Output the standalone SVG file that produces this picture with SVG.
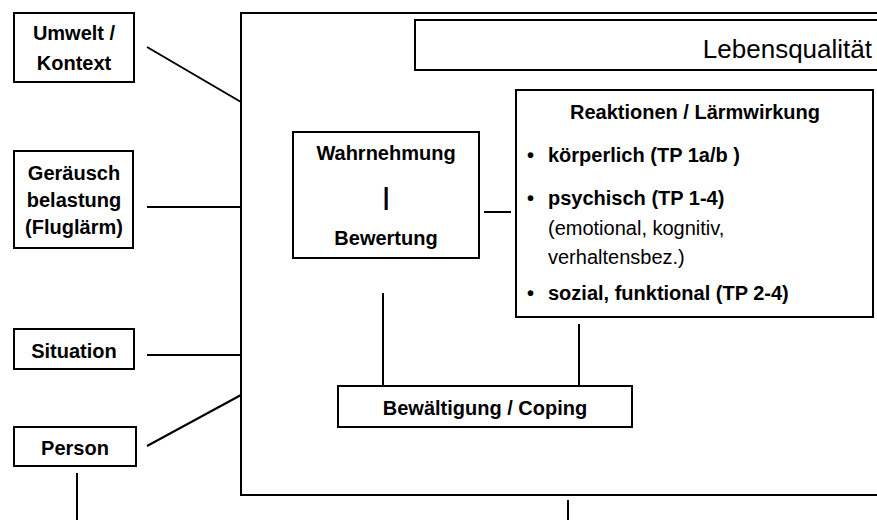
<svg xmlns="http://www.w3.org/2000/svg" width="877" height="520" viewBox="0 0 877 520">
<style>
.box{fill:#fff;stroke:#000;stroke-width:2}
.frame{fill:none;stroke:#000;stroke-width:2}
.b{font-family:"Liberation Sans",Arial,sans-serif;font-weight:bold;font-size:20px;fill:#000}
.r{font-family:"Liberation Sans",Arial,sans-serif;font-size:20px;fill:#000}
.c{text-anchor:middle}
#connectors line{stroke:#000;stroke-width:2}
</style>
<rect width="877" height="520" fill="#fff"/>
<g id="lebensqualitaet-frame">
<rect class="frame" x="241" y="13" width="680" height="482"/>
</g>
<g id="lebensqualitaet">
<rect class="box" x="415" y="20" width="500" height="50"/>
<text class="r" x="872" y="58" text-anchor="end" style="font-size:26px">Lebensqualität</text>
</g>
<g id="umwelt">
<rect class="box" x="14" y="13" width="120" height="69"/>
<text class="b c" x="74" y="40">Umwelt /</text>
<text class="b c" x="74" y="70">Kontext</text>
</g>
<g id="geraeusch">
<rect class="box" x="14" y="151" width="119" height="97"/>
<text class="b c" x="74" y="180">Geräusch</text>
<text class="b c" x="74" y="207">belastung</text>
<text class="b c" x="74" y="234">(Fluglärm)</text>
</g>
<g id="situation">
<rect class="box" x="14" y="329" width="120" height="40"/>
<text class="b c" x="74" y="358">Situation</text>
</g>
<g id="person">
<rect class="box" x="14" y="427" width="122" height="39"/>
<text class="b c" x="75" y="455">Person</text>
</g>
<g id="wahrnehmung">
<rect class="box" x="293" y="132" width="186" height="126"/>
<text class="b c" x="386" y="160">Wahrnehmung</text>
<text class="b c" x="386" y="205" style="font-size:24px">|</text>
<text class="b c" x="386" y="245">Bewertung</text>
</g>
<g id="reaktionen">
<rect class="box" x="516" y="90" width="357" height="227"/>
<text class="b c" x="695" y="119">Reaktionen / Lärmwirkung</text>
<text class="b" x="527" y="162">•</text>
<text class="b" x="548" y="162">körperlich (TP 1a/b )</text>
<text class="b" x="527" y="205">•</text>
<text class="b" x="548" y="205">psychisch (TP 1-4)</text>
<text class="r" x="548" y="235">(emotional, kognitiv,</text>
<text class="r" x="548" y="264">verhaltensbez.)</text>
<text class="b" x="527" y="300">•</text>
<text class="b" x="548" y="300">sozial, funktional (TP 2-4)</text>
</g>
<g id="bewaeltigung">
<rect class="box" x="338" y="386" width="294" height="41"/>
<text class="b c" x="485" y="415">Bewältigung / Coping</text>
</g>
<g id="connectors">
<line x1="147" y1="47" x2="241" y2="102"/>
<line x1="147" y1="207" x2="241" y2="207"/>
<line x1="147" y1="355" x2="241" y2="355"/>
<line x1="147" y1="446" x2="241" y2="395"/>
<line x1="77" y1="473" x2="77" y2="520"/>
<line x1="484" y1="212" x2="511" y2="212"/>
<line x1="383" y1="293" x2="383" y2="386"/>
<line x1="579" y1="324" x2="579" y2="386"/>
<line x1="568" y1="500" x2="568" y2="520"/>
</g>
</svg>
